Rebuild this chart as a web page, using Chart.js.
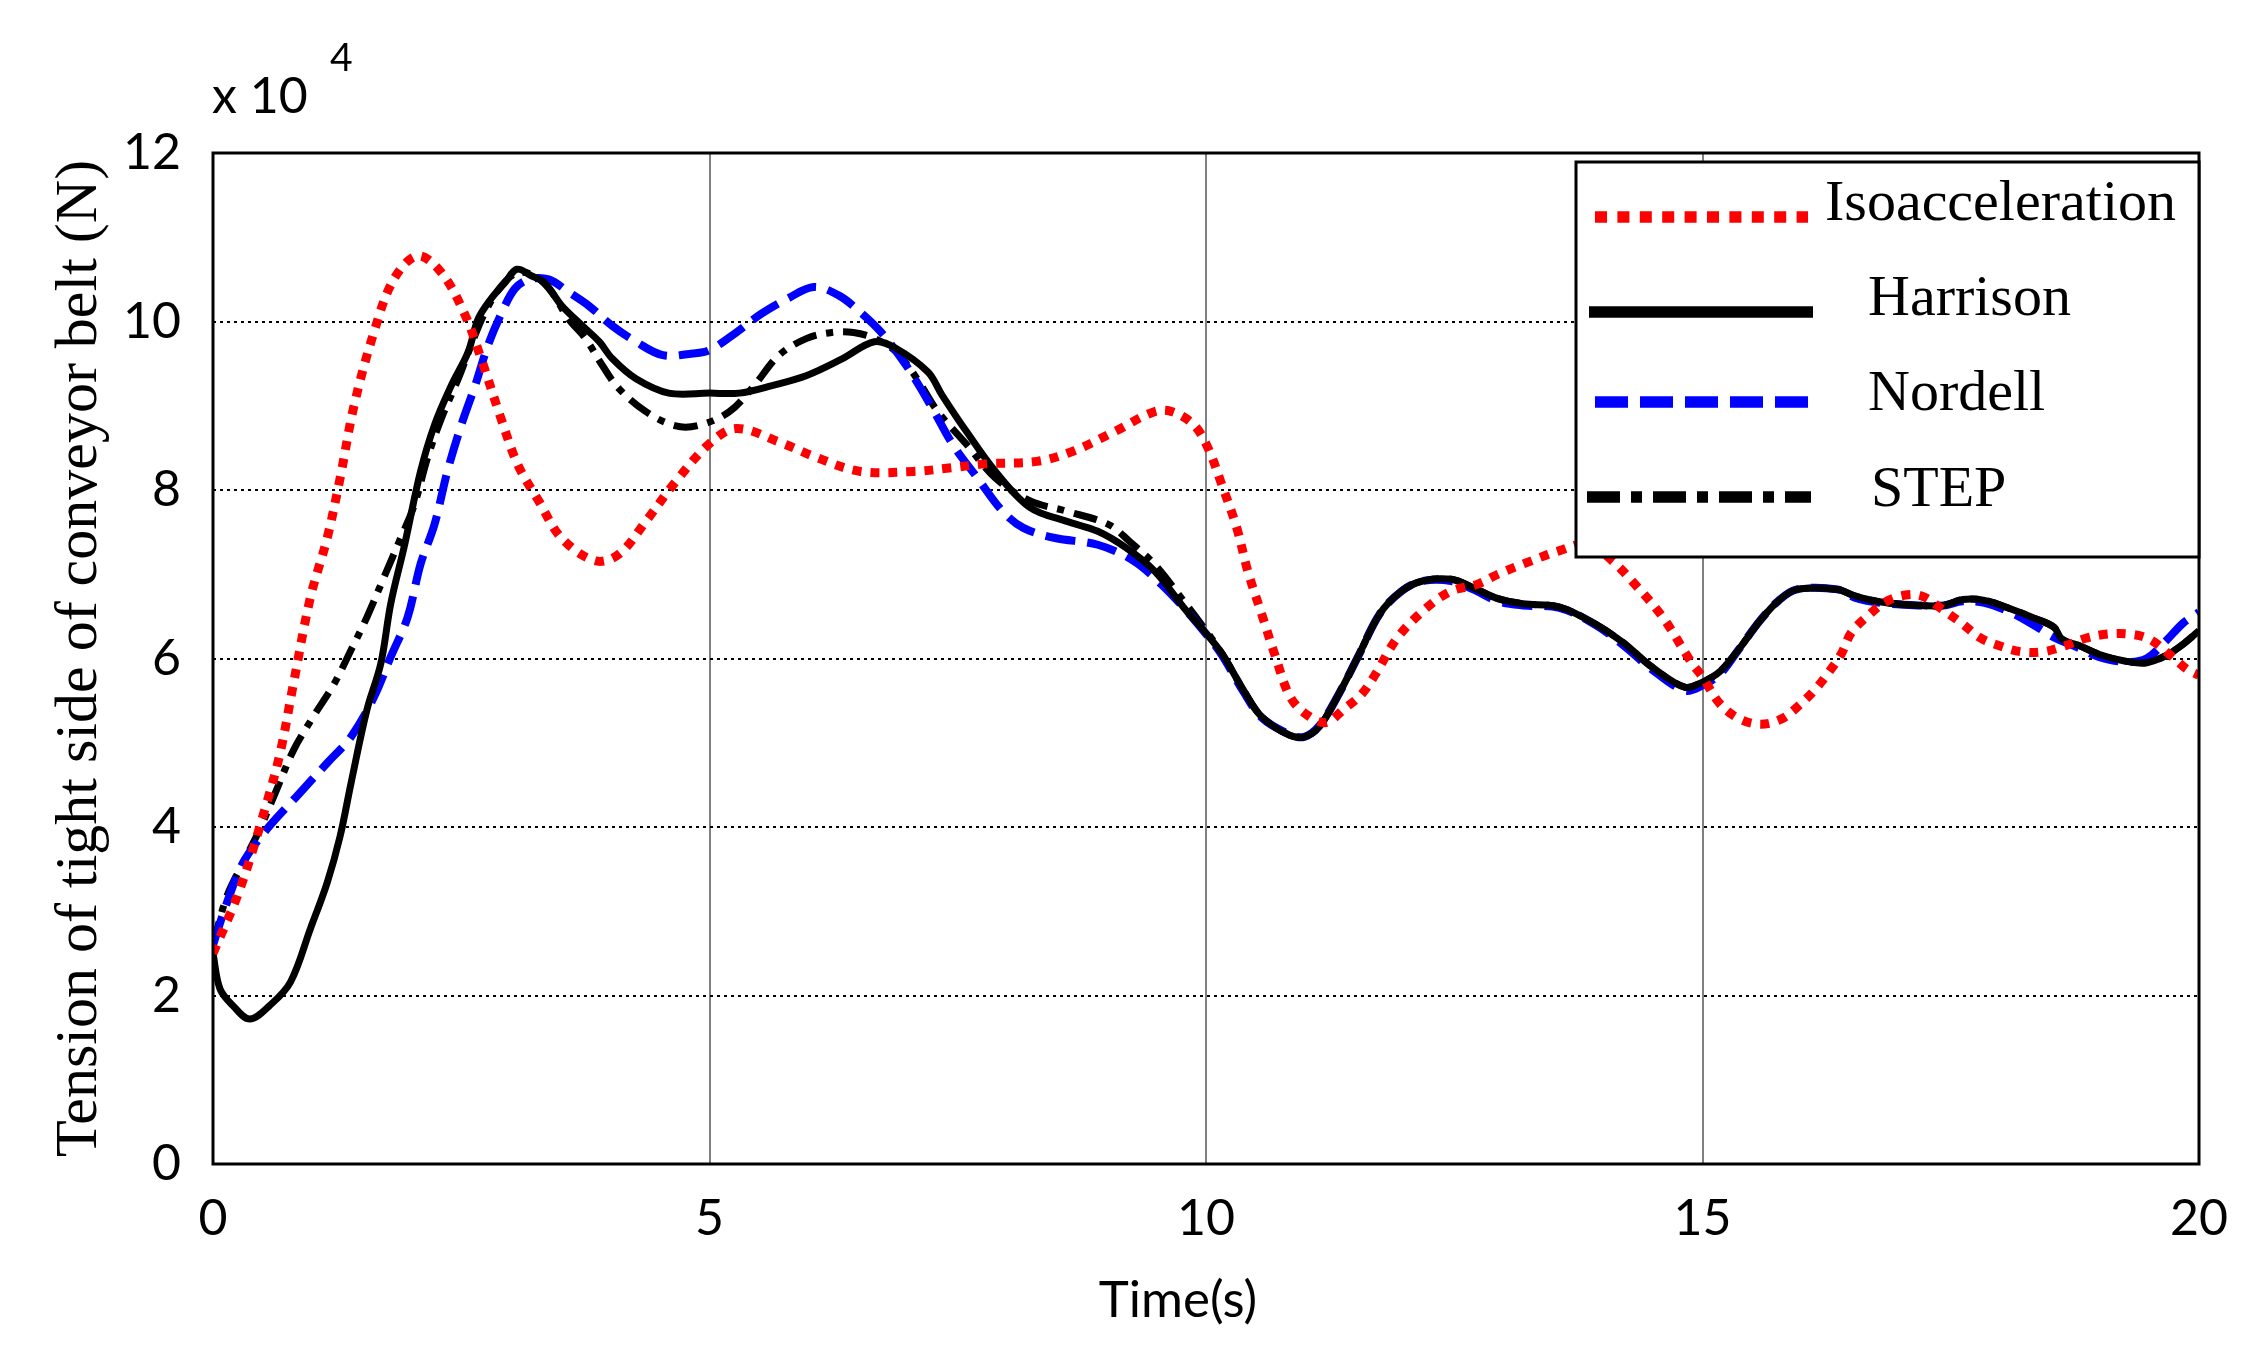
<!DOCTYPE html>
<html>
<head>
<meta charset="utf-8">
<script src="https://cdn.jsdelivr.net/npm/chart.js@4.4.0/dist/chart.umd.min.js"></script>
<style>
  html, body { margin: 0; padding: 0; background: #fff; }
  #wrap { width: 2266px; height: 1368px; }
</style>
</head>
<body>
<div id="wrap"><canvas id="chart" width="2266" height="1368"></canvas></div>
<script>
// values, tension in units of 1e4 N
const isoT = [0, 0.27, 0.54, 0.68, 0.81, 0.98, 1.15, 1.28, 1.42, 1.62, 1.82, 2.06, 2.3, 2.53, 2.7, 2.9, 3.07, 3.28, 3.51, 3.85,
  4.09, 4.36, 4.66, 5.0, 5.27, 5.7, 6.09, 6.52, 7.05, 7.41, 7.77, 8.3, 8.66, 9.09, 9.48, 9.66, 9.88, 10.02, 10.16, 10.31,
  10.42, 10.56, 10.7, 10.85, 11.03, 11.21, 11.39, 11.57, 11.71, 11.93, 12.22, 12.47, 12.73, 12.94, 13.19, 13.56, 13.85, 14.1,
  14.32, 14.6, 14.89, 15.0, 15.17, 15.36, 15.58, 15.79, 15.97, 16.14, 16.28, 16.4, 16.5, 16.66, 16.84, 17.03, 17.21, 17.43,
  17.62, 17.79, 17.99, 18.21, 18.43, 18.65, 18.86, 19.08, 19.3, 19.5, 19.7, 19.87, 20];
const isoV = [2.5, 3.26, 4.28, 4.9, 5.7, 6.72, 7.43, 8.14, 9.0, 9.87, 10.5, 10.78, 10.58, 10.1, 9.56, 8.85, 8.3, 7.87, 7.43, 7.16,
  7.24, 7.63, 8.1, 8.55, 8.73, 8.57, 8.38, 8.22, 8.22, 8.26, 8.31, 8.34, 8.46, 8.7, 8.93, 8.93, 8.77, 8.5, 8.06, 7.55,
  7.04, 6.53, 6.02, 5.54, 5.32, 5.24, 5.4, 5.58, 5.82, 6.25, 6.6, 6.8, 6.88, 7.0, 7.12, 7.28, 7.36, 7.15,
  6.88, 6.49, 5.95, 5.78, 5.47, 5.29, 5.22, 5.28, 5.44, 5.64, 5.85, 6.06, 6.31, 6.5, 6.67, 6.75, 6.74, 6.57,
  6.41, 6.25, 6.15, 6.08, 6.08, 6.15, 6.24, 6.29, 6.29, 6.23, 6.05, 5.88, 5.8];

const harT = [0, 0.07, 0.2, 0.37, 0.57, 0.78, 0.98, 1.15, 1.28, 1.39, 1.55, 1.69, 1.79, 1.93, 2.09, 2.23, 2.4, 2.57, 2.67, 2.8,
  2.94, 3.06, 3.21, 3.34, 3.51, 3.72, 3.89, 4.02, 4.26, 4.59, 5.0, 5.3, 5.63, 5.98, 6.34, 6.66, 6.88, 7.2, 7.34, 7.59,
  7.88, 8.23, 8.59, 8.91, 9.2, 9.48, 9.8, 10.0, 10.16, 10.38, 10.56, 10.84, 10.99, 11.14, 11.32, 11.53, 11.75, 11.97, 12.18, 12.47,
  12.69, 12.94, 13.19, 13.56, 13.92, 14.21, 14.49, 14.82, 15.0, 15.18, 15.36, 15.58, 15.77, 15.95, 16.36, 16.54, 16.8, 17.17, 17.43, 17.62,
  17.84, 18.1, 18.36, 18.54, 18.62, 18.8, 18.99, 19.25, 19.47, 19.66, 19.84, 20];
const harV = [2.5, 2.08, 1.88, 1.72, 1.88, 2.16, 2.79, 3.34, 3.89, 4.52, 5.39, 5.94, 6.65, 7.35, 8.22, 8.77, 9.24, 9.64, 10.03, 10.27,
  10.46, 10.62, 10.54, 10.46, 10.19, 9.95, 9.76, 9.56, 9.32, 9.15, 9.15, 9.15, 9.24, 9.36, 9.56, 9.76, 9.68, 9.4, 9.13, 8.69,
  8.22, 7.79, 7.63, 7.51, 7.31, 7.04, 6.57, 6.3, 6.06, 5.62, 5.31, 5.09, 5.07, 5.19, 5.54, 6.02, 6.53, 6.8, 6.92, 6.94,
  6.84, 6.71, 6.65, 6.61, 6.41, 6.18, 5.9, 5.66, 5.72, 5.85, 6.1, 6.45, 6.69, 6.82, 6.82, 6.74, 6.67, 6.63, 6.63, 6.7,
  6.69, 6.59, 6.47, 6.37, 6.23, 6.15, 6.05, 5.97, 5.95, 6.03, 6.17, 6.33];

const norT = [0, 0.14, 0.3, 0.54, 0.84, 1.15, 1.39, 1.62, 1.79, 1.96, 2.09, 2.23, 2.36, 2.5, 2.64, 2.77, 2.91, 3.04, 3.18, 3.38,
  3.58, 3.78, 4.02, 4.26, 4.53, 4.83, 5.0, 5.27, 5.52, 5.8, 6.05, 6.3, 6.52, 6.73, 6.98, 7.23, 7.45, 7.7, 7.95, 8.16,
  8.48, 8.91, 9.27, 9.55, 9.8, 10.0, 10.16, 10.38, 10.56, 10.84, 10.99, 11.14, 11.32, 11.53, 11.75, 11.97, 12.18, 12.47, 12.69, 12.94,
  13.19, 13.56, 13.92, 14.21, 14.49, 14.82, 15.0, 15.18, 15.36, 15.58, 15.77, 15.95, 16.36, 16.54, 16.8, 17.17, 17.43, 17.62, 17.84, 18.1,
  18.36, 18.54, 18.8, 18.99, 19.25, 19.47, 19.66, 19.84, 20];
const norV = [2.6, 3.1, 3.57, 3.97, 4.36, 4.76, 5.07, 5.54, 6.02, 6.49, 7.12, 7.59, 8.22, 8.77, 9.24, 9.72, 10.11, 10.39, 10.5, 10.5,
  10.35, 10.19, 9.95, 9.76, 9.6, 9.62, 9.66, 9.87, 10.09, 10.28, 10.41, 10.31, 10.11, 9.87, 9.48, 9.0, 8.54, 8.14, 7.75, 7.55,
  7.43, 7.35, 7.16, 6.88, 6.57, 6.29, 6.04, 5.6, 5.3, 5.1, 5.07, 5.2, 5.54, 6.02, 6.53, 6.8, 6.92, 6.92, 6.82, 6.68,
  6.63, 6.6, 6.4, 6.15, 5.87, 5.62, 5.68, 5.82, 6.1, 6.45, 6.69, 6.82, 6.82, 6.72, 6.66, 6.63, 6.63, 6.68, 6.66, 6.55,
  6.38, 6.25, 6.12, 6.02, 5.96, 6.0, 6.2, 6.42, 6.55];

const stpT = [0, 0.14, 0.3, 0.47, 0.64, 0.81, 1.01, 1.22, 1.39, 1.55, 1.72, 1.89, 2.03, 2.16, 2.3, 2.47, 2.6, 2.74, 2.91, 3.07,
  3.24, 3.41, 3.58, 3.75, 3.92, 4.09, 4.36, 4.66, 4.9, 5.2, 5.45, 5.7, 5.98, 6.23, 6.45, 6.66, 6.88, 7.09, 7.3, 7.59,
  7.88, 8.23, 8.59, 9.02, 9.23, 9.48, 9.77, 10.0, 10.16, 10.38, 10.56, 10.84, 10.99, 11.14, 11.32, 11.53, 11.75, 11.97, 12.18, 12.47,
  12.69, 12.94, 13.19, 13.56, 13.92, 14.21, 14.49, 14.82, 15.0, 15.18, 15.36, 15.58, 15.77, 15.95, 16.36, 16.54, 16.8, 17.17, 17.43, 17.62,
  17.84, 18.1, 18.36, 18.54, 18.62, 18.8, 18.99, 19.25, 19.47, 19.66, 19.84, 20];
const stpV = [2.6, 3.18, 3.57, 3.97, 4.44, 4.91, 5.31, 5.7, 6.1, 6.49, 6.96, 7.43, 7.83, 8.38, 8.85, 9.32, 9.72, 10.11, 10.43, 10.58,
  10.54, 10.35, 10.03, 9.8, 9.48, 9.2, 8.93, 8.76, 8.77, 8.93, 9.24, 9.6, 9.8, 9.87, 9.87, 9.8, 9.64, 9.32, 8.93, 8.54,
  8.14, 7.87, 7.75, 7.59, 7.39, 7.12, 6.69, 6.33, 6.06, 5.62, 5.31, 5.09, 5.07, 5.19, 5.54, 6.02, 6.53, 6.8, 6.92, 6.94,
  6.84, 6.71, 6.65, 6.61, 6.41, 6.18, 5.9, 5.66, 5.72, 5.85, 6.1, 6.45, 6.69, 6.82, 6.82, 6.74, 6.67, 6.63, 6.63, 6.7,
  6.69, 6.59, 6.47, 6.37, 6.23, 6.15, 6.05, 5.97, 5.95, 6.03, 6.17, 6.33];

const seriesNames = ['Isoacceleration', 'Harrison', 'Nordell', 'STEP'];
const xTicks = [0, 5, 10, 15, 20];
const yTicks = [0, 2, 4, 6, 8, 10, 12];

function pts(t, v) {
  return t.map((x, i) => ({ x: x, y: v[i] }));
}

// frame, x-axis title, the "x 10^4" exponent and the boxed legend
const decorPlugin = {
  id: 'decor',
  afterDatasetsDraw(chart) {
    const { ctx, chartArea: a } = chart;
    ctx.save();
    ctx.strokeStyle = '#000';
    ctx.lineWidth = 3;
    ctx.setLineDash([]);
    ctx.strokeRect(a.left, a.top, a.right - a.left, a.bottom - a.top);

    ctx.fillStyle = '#000';
    ctx.textBaseline = 'alphabetic';
    ctx.font = '50px Lato';
    ctx.fillText('x 10', 212, 113);
    ctx.font = '39px Lato';
    ctx.fillText('4', 330, 71);

    ctx.font = '51px Lato';
    ctx.textAlign = 'center';
    ctx.fillText('Time(s)', 1178, 1317);
    ctx.textAlign = 'left';

    // legend box
    const box = { x: 1576, y: 162, w: a.right - 1576, h: 395 };
    ctx.fillStyle = '#fff';
    ctx.fillRect(box.x, box.y, box.w, box.h);
    ctx.strokeRect(box.x, box.y, box.w, box.h);

    const lineY = [217, 312, 402, 497];
    const lineX = [[1595, 1808], [1589, 1813], [1595, 1808], [1587, 1811]];
    const textX = [1825, 1868, 1868, 1871];
    const baseY = [220, 315, 410, 506];
    const legendDash = [[12, 10.4], [], [33, 12], [33, 11, 11, 11]];
    chart.data.datasets.forEach((ds, i) => {
      ctx.beginPath();
      ctx.strokeStyle = ds.borderColor;
      ctx.lineWidth = 11.5;
      ctx.lineCap = 'butt';
      ctx.setLineDash(legendDash[i]);
      ctx.moveTo(lineX[i][0], lineY[i]);
      ctx.lineTo(lineX[i][1], lineY[i]);
      ctx.stroke();
      ctx.setLineDash([]);
      ctx.fillStyle = '#000';
      ctx.font = '58px "Liberation Serif"';
      ctx.fillText(ds.label, textX[i], baseY[i]);
    });
    ctx.restore();
  }
};

new Chart(document.getElementById('chart'), {
  type: 'line',
  data: {
    datasets: [
      {
        label: seriesNames[0],
        data: pts(isoT, isoV),
        borderColor: '#ff0000',
        borderWidth: 9,
        borderDash: [9, 9],
        borderCapStyle: 'butt'
      },
      {
        label: seriesNames[1],
        data: pts(harT, harV),
        borderColor: '#000000',
        borderWidth: 7
      },
      {
        label: seriesNames[2],
        data: pts(norT, norV),
        borderColor: '#0000ff',
        borderWidth: 8,
        borderDash: [30, 12]
      },
      {
        label: seriesNames[3],
        data: pts(stpT, stpV),
        borderColor: '#000000',
        borderWidth: 7,
        borderDash: [24, 10, 7, 10]
      }
    ]
  },
  options: {
    responsive: false,
    devicePixelRatio: 1,
    animation: false,
    layout: { padding: { left: 0, right: 67, top: 153, bottom: 0 } },
    elements: {
      point: { radius: 0 },
      line: { tension: 0.35, fill: false }
    },
    plugins: {
      legend: { display: false },
      tooltip: { enabled: false }
    },
    scales: {
      x: {
        type: 'linear',
        min: 0,
        max: 20,
        afterFit(s) { s.height = 204; },
        afterBuildTicks(s) { s.ticks = xTicks.map(v => ({ value: v })); },
        grid: { color: '#808080', lineWidth: 2, drawTicks: false },
        border: { display: false },
        ticks: { color: '#000', padding: 25, font: { family: 'Lato', size: 50 } }
      },
      y: {
        min: 0,
        max: 12,
        afterFit(s) { s.width = 213; },
        afterBuildTicks(s) { s.ticks = yTicks.map(v => ({ value: v })); },
        grid: { color: '#000', lineWidth: 2, drawTicks: false },
        border: { display: false, dash: [3, 4] },
        ticks: { color: '#000', padding: 32, font: { family: 'Lato', size: 50 } },
        title: {
          display: true,
          text: 'Tension of tight side of conveyor belt (N)',
          color: '#000',
          font: { family: 'Liberation Serif', size: 60 },
          padding: { top: 44, bottom: 0 }
        }
      }
    }
  },
  plugins: [decorPlugin]
});
</script>
</body>
</html>
